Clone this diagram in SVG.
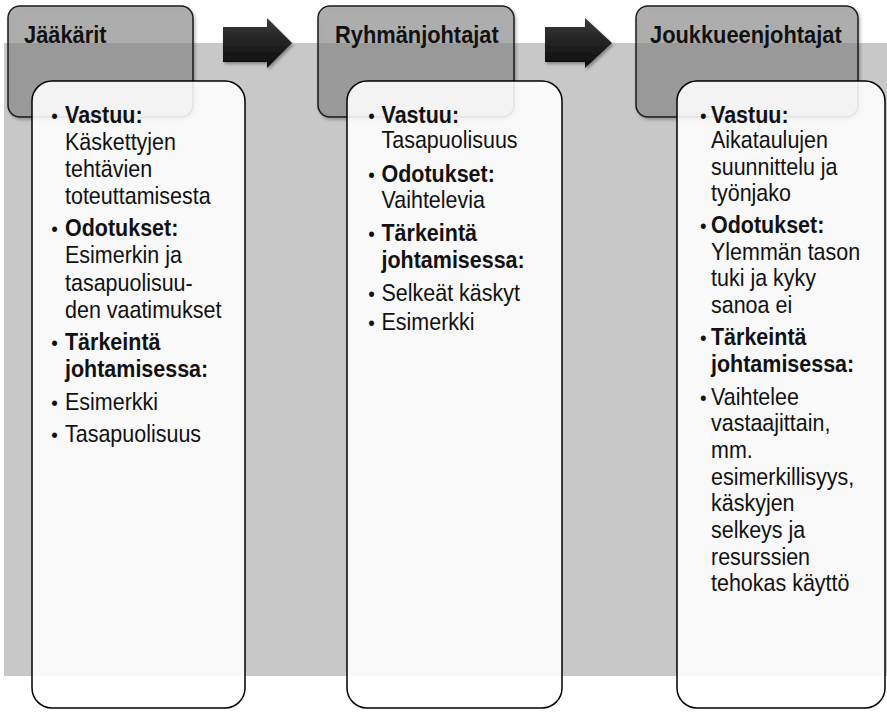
<svg xmlns="http://www.w3.org/2000/svg" width="887" height="712" viewBox="0 0 887 712">
<defs>
<filter id="sh" x="-10%" y="-10%" width="130%" height="130%">
<feDropShadow dx="1.5" dy="2" stdDeviation="1.5" flood-color="#000" flood-opacity="0.35"/>
</filter>
<linearGradient id="ag" x1="0" y1="0" x2="0" y2="1">
<stop offset="0" stop-color="#3a3a3a"/>
<stop offset="1" stop-color="#0a0a0a"/>
</linearGradient>
</defs>
<style>
.bg{fill:#c8c8c8}
.hd{fill:#868686;fill-opacity:0.55;stroke:#1a1a1a;stroke-width:1.5}
.ct{fill:#ffffff;fill-opacity:0.88;stroke:#000;stroke-width:1.5}
.ht{font-family:"Liberation Sans",Arial,sans-serif;font-size:24px;font-weight:bold;fill:#111}
.tx{font-family:"Liberation Sans",Arial,sans-serif;font-size:24px;fill:#111}
.b{font-weight:bold}
.bu{font-size:21px}
.ar{fill:url(#ag)}
</style>
<rect class="bg" x="4" y="43" width="883" height="633"/>
<g id="connectors">
<polygon class="ar" filter="url(#sh)" points="223,27 267,27 267,18 292,43 267,68 267,62 223,62"/>
<polygon class="ar" filter="url(#sh)" points="545,27 585,27 585,18 612,43 585,68 585,62 545,62"/>
</g>
<g id="node-jaakarit">
<rect class="hd" filter="url(#sh)" x="8" y="6" width="185" height="111" rx="12"/>
<text class="ht" transform="translate(24 43.3) scale(0.91 1)">Jääkärit</text>
<rect class="ct" x="32" y="81" width="213" height="627" rx="20"/>
<g class="tx" transform="translate(65 0) scale(0.895 1)">
<text class="bu" x="-15.5" y="123">•</text><text class="b" x="0" y="123">Vastuu:</text>
<text x="0" y="150">Käskettyjen</text>
<text x="0" y="176.7">tehtävien</text>
<text x="0" y="204">toteuttamisesta</text>
<text class="bu" x="-15.5" y="236.5">•</text><text class="b" x="0" y="236.5">Odotukset:</text>
<text x="0" y="263.5">Esimerkin ja</text>
<text x="0" y="291">tasapuolisuu-</text>
<text x="0" y="318">den vaatimukset</text>
<text class="bu" x="-15.5" y="350">•</text><text class="b" x="0" y="350">Tärkeintä</text>
<text class="b" x="0" y="377.5">johtamisessa:</text>
<text class="bu" x="-15.5" y="410.5">•</text><text x="0" y="410.5">Esimerkki</text>
<text class="bu" x="-15.5" y="442">•</text><text x="0" y="442">Tasapuolisuus</text>
</g>
</g>
<g id="node-ryhmanjohtajat">
<rect class="hd" filter="url(#sh)" x="318" y="6" width="196" height="111" rx="12"/>
<text class="ht" transform="translate(335 43.3) scale(0.91 1)">Ryhmänjohtajat</text>
<rect class="ct" x="347" y="81" width="215" height="627" rx="20"/>
<g class="tx" transform="translate(381.5 0) scale(0.895 1)">
<text class="bu" x="-14.7" y="123">•</text><text class="b" x="0" y="123">Vastuu:</text>
<text x="0" y="148.5">Tasapuolisuus</text>
<text class="bu" x="-14.7" y="182">•</text><text class="b" x="0" y="182">Odotukset:</text>
<text x="0" y="208.5">Vaihtelevia</text>
<text class="bu" x="-14.7" y="241.5">•</text><text class="b" x="0" y="241.5">Tärkeintä</text>
<text class="b" x="0" y="268.5">johtamisessa:</text>
<text class="bu" x="-14.7" y="301.5">•</text><text x="0" y="301.5">Selkeät käskyt</text>
<text class="bu" x="-14.7" y="330.5">•</text><text x="0" y="330.5">Esimerkki</text>
</g>
</g>
<g id="node-joukkueenjohtajat">
<rect class="hd" filter="url(#sh)" x="636" y="6" width="222" height="111" rx="12"/>
<text class="ht" transform="translate(650 43.3) scale(0.91 1)">Joukkueenjohtajat</text>
<rect class="ct" x="677" y="81" width="208" height="627" rx="20"/>
<g class="tx" transform="translate(711 0) scale(0.895 1)">
<text class="bu" x="-12.3" y="123">•</text><text class="b" x="0" y="123">Vastuu:</text>
<text x="0" y="148.5">Aikataulujen</text>
<text x="0" y="175">suunnittelu ja</text>
<text x="0" y="201.5">työnjako</text>
<text class="bu" x="-12.3" y="233.5">•</text><text class="b" x="0" y="233.5">Odotukset:</text>
<text x="0" y="260">Ylemmän tason</text>
<text x="0" y="286.5">tuki ja kyky</text>
<text x="0" y="313">sanoa ei</text>
<text class="bu" x="-12.3" y="345">•</text><text class="b" x="0" y="345">Tärkeintä</text>
<text class="b" x="0" y="372">johtamisessa:</text>
<text class="bu" x="-12.3" y="405">•</text><text x="0" y="405">Vaihtelee</text>
<text x="0" y="431.5">vastaajittain,</text>
<text x="0" y="458">mm.</text>
<text x="0" y="485">esimerkillisyys,</text>
<text x="0" y="511.5">käskyjen</text>
<text x="0" y="538">selkeys ja</text>
<text x="0" y="565">resurssien</text>
<text x="0" y="591.5">tehokas käyttö</text>
</g>
</g>
</svg>
